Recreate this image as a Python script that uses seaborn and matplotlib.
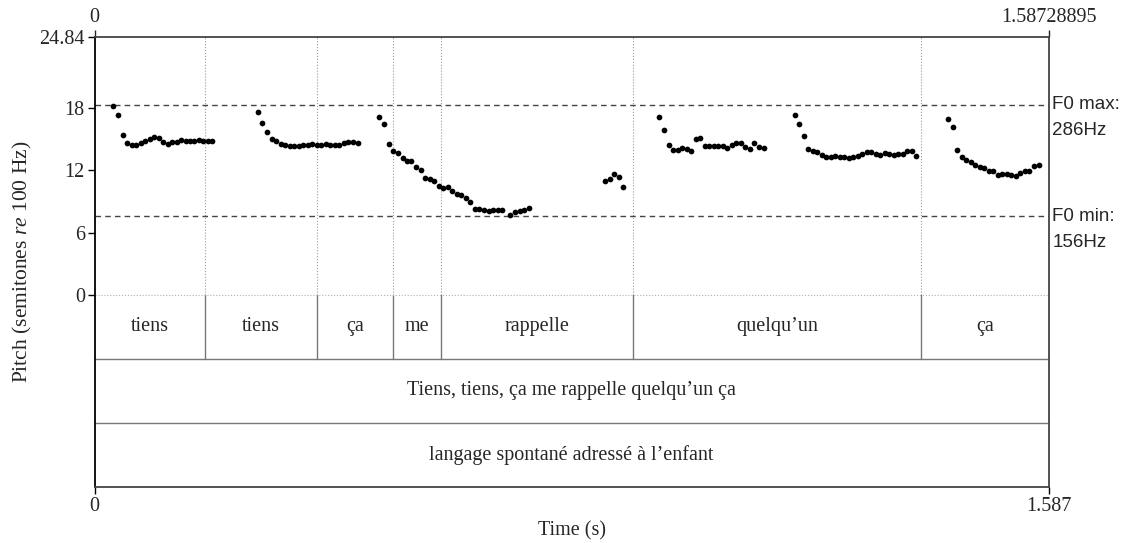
import pandas as pd
import matplotlib.pyplot as plt
import matplotlib.transforms as mtransforms
import seaborn as sns

# Pitch track (time in s, pitch in semitones re 100 Hz)
times = [
    # tiens
    0.0313, 0.0396, 0.0469, 0.0546, 0.0619, 0.0691, 0.0769, 0.0840, 0.0923, 0.0995,
    0.1073, 0.1145, 0.1218, 0.1295, 0.1368, 0.1439, 0.1517, 0.1589, 0.1661, 0.1739,
    0.1810, 0.1884, 0.1960,
    # tiens
    0.2715, 0.2792, 0.2870, 0.2948, 0.3020, 0.3098, 0.3170, 0.3248, 0.3319, 0.3398,
    0.3474, 0.3547, 0.3624, 0.3697, 0.3774, 0.3847, 0.3923, 0.4002, 0.4073, 0.4151,
    0.4226, 0.4301, 0.4376,
    # ça me rappelle
    0.4739, 0.4817, 0.4895, 0.4972, 0.5050, 0.5128, 0.5200, 0.5271, 0.5349, 0.5428,
    0.5499, 0.5577, 0.5649, 0.5727, 0.5804, 0.5877, 0.5953, 0.6027, 0.6103, 0.6176,
    0.6253, 0.6331, 0.6403, 0.6481, 0.6559, 0.6631, 0.6709, 0.6780, 0.6918, 0.6997,
    0.7075, 0.7151, 0.7230,
    # isolated bit
    0.8499, 0.8577, 0.8649, 0.8727, 0.8799,
    # quelqu'un 1
    0.9398, 0.9476, 0.9554, 0.9631, 0.9704, 0.9780, 0.9854, 0.9930, 1.0003, 1.0075,
    1.0153, 1.0230, 1.0303, 1.0379, 1.0453, 1.0529, 1.0602, 1.0679, 1.0757, 1.0829,
    1.0907, 1.0978, 1.1057, 1.1135,
    # quelqu'un 2
    1.1651, 1.1727, 1.1800, 1.1877, 1.1950, 1.2022, 1.2100, 1.2171, 1.2249, 1.2321,
    1.2399, 1.2471, 1.2549, 1.2626, 1.2699, 1.2775, 1.2849, 1.2925, 1.2998, 1.3075,
    1.3148, 1.3225, 1.3303, 1.3374, 1.3453, 1.3524, 1.3602, 1.3674,
    # ça
    1.4201, 1.4280, 1.4351, 1.4429, 1.4501, 1.4579, 1.4651, 1.4729, 1.4800, 1.4879,
    1.4955, 1.5028, 1.5105, 1.5178, 1.5255, 1.5333, 1.5404, 1.5483, 1.5555, 1.5633,
    1.5710,
]
pitch = [
    18.23, 17.29, 15.35, 14.62, 14.39, 14.39, 14.62, 14.77, 15.00, 15.23,
    15.13, 14.71, 14.55, 14.68, 14.74, 14.87, 14.81, 14.81, 14.84, 14.91,
    14.84, 14.81, 14.84,
    17.58, 16.55, 15.68, 15.00, 14.77, 14.52, 14.39, 14.33, 14.29, 14.33,
    14.39, 14.45, 14.52, 14.48, 14.48, 14.52, 14.48, 14.45, 14.45, 14.62,
    14.68, 14.68, 14.58,
    17.10, 16.42, 14.52, 13.87, 13.65, 13.17, 12.93, 12.93, 12.35, 12.00,
    11.29, 11.13, 10.97, 10.48, 10.26, 10.36, 10.03, 9.71, 9.58, 9.35,
    8.91, 8.23, 8.23, 8.16, 8.09, 8.13, 8.19, 8.19, 7.71, 7.97,
    8.03, 8.16, 8.33,
    11.00, 11.13, 11.67, 11.33, 10.39,
    17.13, 15.88, 14.48, 13.97, 13.94, 14.10, 14.04, 13.87, 15.00, 15.06,
    14.36, 14.36, 14.33, 14.29, 14.33, 14.19, 14.48, 14.62, 14.58, 14.26,
    14.07, 14.62, 14.26, 14.19,
    17.29, 16.49, 15.32, 14.04, 13.90, 13.75, 13.51, 13.32, 13.32, 13.36,
    13.32, 13.26, 13.19, 13.26, 13.39, 13.58, 13.75, 13.78, 13.55, 13.51,
    13.65, 13.61, 13.51, 13.55, 13.55, 13.87, 13.87, 13.39,
    16.94, 16.13, 13.97, 13.29, 13.00, 12.78, 12.49, 12.35, 12.26, 11.97,
    11.94, 11.58, 11.65, 11.62, 11.52, 11.48, 11.74, 11.91, 11.94, 12.42,
    12.55,
]

# word tier
word_bounds = [0.0, 0.1839, 0.3702, 0.4967, 0.5765, 0.8960, 1.3750, 1.58728895]
words = ['tiens', 'tiens', 'ça', 'me', 'rappelle', 'quelqu’un', 'ça']
sentence = 'Tiens, tiens, ça me rappelle quelqu’un ça'
context = 'langage spontané adressé à l’enfant'

t_end = 1.58728895
y_top = 24.84
f0_max_st, f0_min_st = 18.33, 7.56
f0_max_lbl, f0_min_lbl = '286Hz', '156Hz'
y_ticks = [0, 6, 12, 18, 24.84]
y_ticklabels = ['0', '6', '12', '18', '24.84']

# tier limits in semitone units (below the pitch area)
tier_edges = [0, -6.14, -12.34, -18.52]

sns.set_style('white')
plt.rcParams['font.family'] = ['Liberation Serif', 'DejaVu Serif']
plt.rcParams['mathtext.fontset'] = 'custom'
plt.rcParams['mathtext.it'] = 'Liberation Serif:italic'
plt.rcParams['mathtext.rm'] = 'Liberation Serif'

fig = plt.figure(figsize=(11.25, 5.43), dpi=100)
ax = fig.add_axes([0.084, 0.1031, 0.848, 0.8288])

df = pd.DataFrame({'time': times, 'pitch': pitch})
sns.scatterplot(data=df, x='time', y='pitch', color='black', s=17,
                linewidth=0, ax=ax, legend=False, zorder=5)

ax.set_xlim(0, t_end)
ax.set_ylim(tier_edges[-1], y_top)

# word boundaries: dotted in pitch area, solid inside the word tier
for b in word_bounds[1:-1]:
    ax.plot([b, b], [0, y_top], color='#9a9a9a', lw=0.8, ls=':', zorder=1)
    ax.plot([b, b], [tier_edges[1], 0], color='#777777', lw=1.0, zorder=1)

# tier boundaries
ax.axhline(0, color='#b0b0b0', lw=0.8, ls=':', zorder=1)
for e in tier_edges[1:-1]:
    ax.axhline(e, color='#777777', lw=1.0, zorder=1)

# F0 range lines
ax.axhline(f0_max_st, color='#444444', lw=1.0, ls=(0, (4, 3)), zorder=2)
ax.axhline(f0_min_st, color='#444444', lw=1.0, ls=(0, (4, 3)), zorder=2)
trans = mtransforms.blended_transform_factory(ax.transAxes, ax.transData)
for yv, lbl, name in [(f0_max_st, f0_max_lbl, 'F0 max:'), (f0_min_st, f0_min_lbl, 'F0 min:')]:
    ax.text(1.004, yv, name, transform=trans, ha='left', va='center',
            fontsize=13.5, family='Liberation Sans')
    ax.text(1.004, yv - 2.5, lbl, transform=trans, ha='left', va='center',
            fontsize=13.5, family='Liberation Sans')

# tier texts
for i, w in enumerate(words):
    xc = (word_bounds[i] + word_bounds[i + 1]) / 2
    ax.text(xc, (tier_edges[0] + tier_edges[1]) / 2, w, ha='center', va='center', fontsize=14.5)
ax.text(t_end / 2, (tier_edges[1] + tier_edges[2]) / 2, sentence, ha='center', va='center', fontsize=14.5)
ax.text(t_end / 2, (tier_edges[2] + tier_edges[3]) / 2, context, ha='center', va='center', fontsize=14.5)

# axes frame
for side in ['top', 'right', 'bottom']:
    ax.spines[side].set_color('#444444')
    ax.spines[side].set_linewidth(1.3)
ax.spines['left'].set_color('black')
ax.spines['left'].set_linewidth(1.3)

ax.set_yticks(y_ticks)
ax.set_yticklabels(y_ticklabels)
ax.set_xticks([0, t_end])
ax.set_xticklabels(['0', '1.587'])
ax.tick_params(axis='both', direction='out', length=5, width=1.0, labelsize=14.5,
               left=True, bottom=True, color='black', pad=2)

top = ax.secondary_xaxis('top')
top.set_xticks([0, t_end])
top.set_xticklabels(['0', '1.58728895'])
top.tick_params(direction='out', length=5, width=1.0, labelsize=14.5, pad=2)
top.spines['top'].set_visible(False)

ax.set_xlabel('Time (s)', fontsize=14.5, labelpad=4)
ax.set_ylabel(r'Pitch (semitones $\mathit{re}$ 100 Hz)', fontsize=15.5, labelpad=4)

fig.savefig('out.png', dpi=100)
